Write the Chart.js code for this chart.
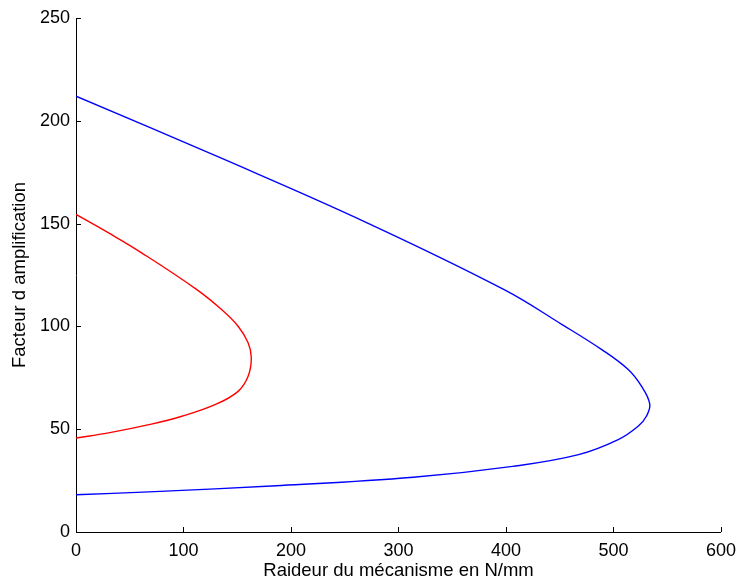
<!DOCTYPE html>
<html>
<head>
<meta charset="utf-8">
<script src="https://cdn.jsdelivr.net/npm/chart.js@4/dist/chart.umd.min.js"></script>
<style>
html,body{margin:0;padding:0;background:#fff;}
#wrap{width:744px;height:583px;}
</style>
</head>
<body>
<div id="wrap"><canvas id="c" width="744" height="583"></canvas></div>
<script>
// Data
const blueX = [0, 137.9, 270.8, 398.3, 452.2, 489.1, 513.7, 526, 533.7, 530.6, 522.9, 504.4, 467.5, 406.1, 313.8, 190.8, 67.8, 0];
const blueY = [212, 181.2, 150.4, 117.9, 100.9, 88.7, 79, 70.9, 62.3, 56.3, 51.4, 44.9, 37.6, 31.9, 26.6, 22.6, 19.5, 18.1];
const redX = [0, 30.3, 61, 112.4, 135.4, 150.8, 160.1, 163.1, 160.1, 150.8, 129.3, 98.5, 67.8, 30.3, 0];
const redY = [154.5, 145.5, 135.8, 117.9, 108.2, 100.1, 92, 84.7, 75.7, 68.4, 61.9, 56.3, 52.2, 48.2, 45.7];
const xTicks = [0, 100, 200, 300, 400, 500, 600];
const yTicks = [0, 50, 100, 150, 200, 250];
const xTitle = "Raideur du mécanisme en N/mm";
const yTitle = "Facteur d amplification";

const toPts = (xs, ys) => xs.map((x, i) => ({x: x, y: ys[i]}));

const FONT = "'Liberation Sans', Arial, Helvetica, sans-serif";

const inwardTicks = {
  id: 'inwardTicks',
  afterDraw(chart) {
    const ctx = chart.ctx;
    const xs = chart.scales.x, ys = chart.scales.y;
    const L = 5;
    ctx.save();
    ctx.strokeStyle = '#000';
    ctx.lineWidth = 1;
    ctx.beginPath();
    xTicks.forEach(v => {
      const px = Math.round(xs.getPixelForValue(v)) + 0.5;
      ctx.moveTo(px, ys.bottom);
      ctx.lineTo(px, ys.bottom - L);
    });
    yTicks.forEach(v => {
      const py = Math.round(ys.getPixelForValue(v)) + 0.5;
      ctx.moveTo(xs.left, py);
      ctx.lineTo(xs.left + L, py);
    });
    ctx.stroke();
    ctx.restore();
  }
};

const lineStyle = {borderWidth: 1.4, pointRadius: 0, pointHoverRadius: 0, fill: false,
  tension: 0.4, xAxisID: 'x', yAxisID: 'y'};

new Chart(document.getElementById('c'), {
  type: 'line',
  data: {
    datasets: [
      Object.assign({data: toPts(blueX, blueY), borderColor: '#0000ff'}, lineStyle),
      Object.assign({data: toPts(redX, redY), borderColor: '#ff0000'}, lineStyle)
    ]
  },
  options: {
    responsive: false,
    animation: false,
    layout: {padding: {left: 0, top: 18, right: 17, bottom: 0}},
    plugins: {legend: {display: false}, tooltip: {enabled: false}},
    scales: {
      x: {
        type: 'linear', position: 'bottom', min: 0, max: 600,
        afterBuildTicks: s => { s.ticks = xTicks.map(v => ({value: v})); },
        afterFit: s => { s.height = 51; },
        grid: {display: true, drawOnChartArea: false, drawTicks: false},
        border: {display: true, color: '#000', width: 1},
        ticks: {color: '#000', font: {family: FONT, size: 18}, padding: 8, maxRotation: 0},
        title: {display: true, text: xTitle, color: '#000', font: {family: FONT, size: 18.5}, padding: {top: 0, bottom: 1}}
      },
      y: {
        type: 'linear', position: 'left', min: 0, max: 250,
        afterBuildTicks: s => { s.ticks = yTicks.map(v => ({value: v})); },
        afterFit: s => { s.width = 76; },
        grid: {display: true, drawOnChartArea: false, drawTicks: false},
        border: {display: true, color: '#000', width: 1},
        ticks: {color: '#000', font: {family: FONT, size: 18}, padding: 6},
        title: {display: true, text: yTitle, color: '#000', font: {family: FONT, size: 18.5}, padding: {top: 9, bottom: 0}}
      }
    }
  },
  plugins: [inwardTicks]
});
</script>
</body>
</html>
